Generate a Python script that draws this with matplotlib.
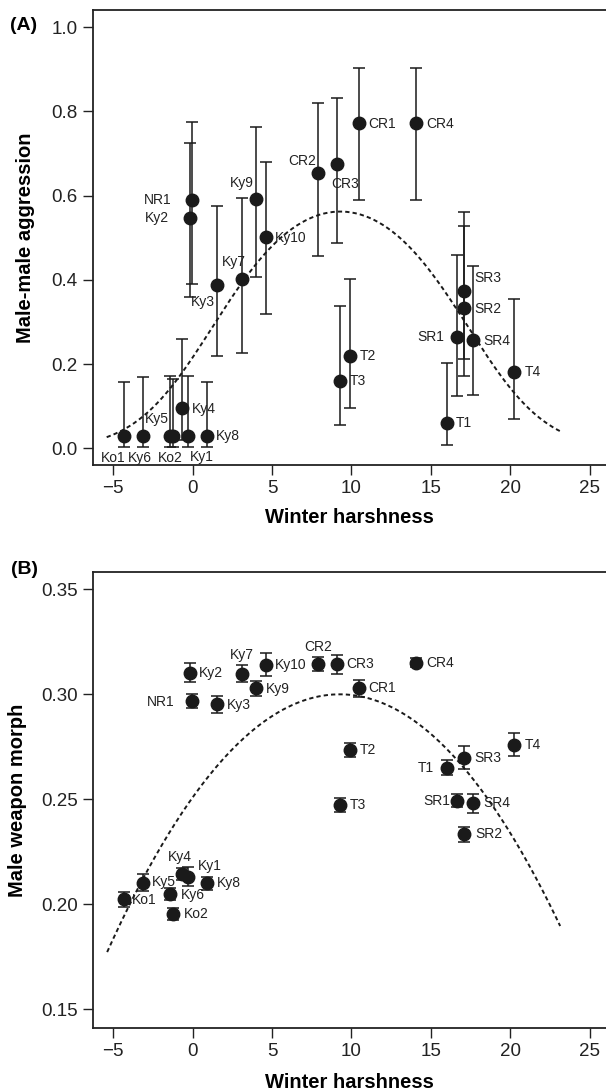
import numpy as np
import matplotlib
matplotlib.use('Agg')
import matplotlib.pyplot as plt

plt.rcParams['font.family'] = ['Liberation Sans', 'DejaVu Sans']

# populations (same order in both panels)
pops = ['Ko1', 'Ky5', 'Ky6', 'Ko2', 'Ky4', 'Ky1', 'Ky8', 'Ky3', 'Ky7', 'Ky10',
        'Ky9', 'NR1', 'Ky2', 'CR2', 'CR3', 'CR1', 'CR4', 'T2', 'T3', 'T1',
        'SR1', 'SR3', 'SR2', 'SR4', 'T4']
winter = [-4.3, -3.12, -1.44, -1.22, -0.7, -0.32, 0.87, 1.52, 3.1, 4.6,
          3.99, -0.06, -0.17, 7.9, 9.12, 10.48, 14.05, 9.9, 9.3, 16.0,
          16.63, 17.07, 17.12, 17.63, 20.27]

# panel A: male-male aggression with interval bounds
aggr = [0.030, 0.030, 0.030, 0.030, 0.095, 0.030, 0.030, 0.388, 0.401, 0.501,
        0.592, 0.589, 0.546, 0.654, 0.676, 0.773, 0.773, 0.219, 0.160, 0.059,
        0.265, 0.374, 0.333, 0.257, 0.182]
aggr_lo = [0.003, 0.003, 0.003, 0.003, 0.02, 0.003, 0.003, 0.219, 0.227, 0.320,
           0.406, 0.389, 0.360, 0.457, 0.487, 0.589, 0.589, 0.095, 0.055, 0.009,
           0.125, 0.212, 0.172, 0.127, 0.070]
aggr_hi = [0.158, 0.170, 0.172, 0.164, 0.259, 0.172, 0.158, 0.576, 0.595, 0.680,
           0.763, 0.775, 0.726, 0.819, 0.832, 0.903, 0.903, 0.401, 0.337, 0.202,
           0.460, 0.562, 0.528, 0.433, 0.354]

# panel B: male weapon morph with standard errors
weapon = [0.2024, 0.2103, 0.2049, 0.1954, 0.2144, 0.2131, 0.2100, 0.2952, 0.3098, 0.3140,
          0.3029, 0.2968, 0.3103, 0.3144, 0.3144, 0.3029, 0.3151, 0.2735, 0.2473, 0.2651,
          0.2493, 0.2698, 0.2333, 0.2482, 0.2759]
weapon_se = [0.0035, 0.004, 0.003, 0.0027, 0.003, 0.0045, 0.003, 0.004, 0.004, 0.0055,
             0.0035, 0.0035, 0.0045, 0.0035, 0.0045, 0.004, 0.0022, 0.0035, 0.0035, 0.0034,
             0.003, 0.0054, 0.0035, 0.0045, 0.0055]

# fitted curves (quadratic on logit scale for A, quadratic for B)
fitA_range = (-5.42, 23.25)
fitA_vertex, fitA_top, fitA_curv = 9.3, 0.25, -0.0178
fitB_range = (-5.39, 23.15)
fitB_vertex, fitB_top, fitB_curv = 9.26, 0.300, -0.000572

# label offsets in pixels (dx, dy up)
offA = [(-11, -22.6), (13.4, 16.4), (-30, -22.3), (-3.3, -22.6), (22.3, -0.7),
        (14, -21), (21.7, 0), (-14, -17), (-8.4, 17), (25, -1),
        (-14, 15.6), (-34, 0), (-33, 0), (-16, 12), (7.7, -20),
        (23.3, -1), (24.3, -1), (18, 0), (18, 0), (16.7, 0),
        (-25.6, -0.7), (23.7, 12.4), (23.3, -1), (24, -1), (18.3, -0.7)]
offB = [(20, -0.7), (20.3, 1), (23.5, -1), (23, 0), (-1.3, 16.7),
        (22, 10.7), (22, 0.6), (22.3, -0.6), (0, 18.7), (25, 0),
        (21.3, -1), (-30.7, -0.7), (21, -0.7), (0, 17.4), (23, 0),
        (23.3, 0.5), (24.3, 0), (17.7, 0), (18, 0), (-21, 0),
        (-20.4, 0), (23.7, 0), (24, 0), (24.4, 0), (18.3, 0)]

dark = '#1a1a1a'
fig = plt.figure(figsize=(6.06, 10.91), dpi=100)
axA = fig.add_axes([0.1535, 0.5738, 0.8615, 0.417])
axB = fig.add_axes([0.1535, 0.058, 0.8615, 0.4174])

x = np.array(winter)
ya = np.array(aggr)
errA = [ya - np.array(aggr_lo), np.array(aggr_hi) - ya]
axA.errorbar(x, ya, yerr=errA, fmt='none', ecolor=dark, elinewidth=1.1,
             capsize=4, capthick=1.1, zorder=2)
axA.plot(x, ya, 'o', color=dark, ms=9, zorder=3)
xs = np.linspace(*fitA_range, 200)
logit = fitA_top + fitA_curv * (xs - fitA_vertex) ** 2
axA.plot(xs, 1 / (1 + np.exp(-logit)), color=dark, lw=1.4,
         linestyle=(0, (2.2, 1.6)), zorder=1)

yb = np.array(weapon)
axB.errorbar(x, yb, yerr=weapon_se, fmt='none', ecolor=dark, elinewidth=1.1,
             capsize=4, capthick=1.1, zorder=2)
axB.plot(x, yb, 'o', color=dark, ms=9, zorder=3)
xs = np.linspace(*fitB_range, 200)
axB.plot(xs, fitB_top + fitB_curv * (xs - fitB_vertex) ** 2, color=dark, lw=1.4,
         linestyle=(0, (2.2, 1.6)), zorder=1)

for ax, ys, offs in [(axA, aggr, offA), (axB, weapon, offB)]:
    for name, xv, yv, (dx, dy) in zip(pops, winter, ys, offs):
        ax.annotate(name, (xv, yv), xytext=(dx, dy), textcoords='offset pixels',
                    ha='center', va='center', fontsize=10, color='#222222', zorder=4)
    ax.set_xlim(-6.28, 26.61)
    ax.set_xticks([-5, 0, 5, 10, 15, 20, 25])
    ax.tick_params(direction='out', length=7, width=1.0, labelsize=13.5, pad=4,
                   colors='#222222')
    for s in ax.spines.values():
        s.set_linewidth(1.3)
        s.set_color('#222222')
    ax.set_xlabel('Winter harshness', fontsize=14.5, fontweight='bold')
    ax.xaxis.label.set_va('center')

axA.set_ylim(-0.0396, 1.0407)
axA.set_yticks([0.0, 0.2, 0.4, 0.6, 0.8, 1.0])
axA.set_yticklabels(['0.0', '0.2', '0.4', '0.6', '0.8', '1.0'])
axA.set_ylabel('Male-male aggression', fontsize=14.5, fontweight='bold')
axA.yaxis.label.set_va('center')
axA.yaxis.set_label_coords(-0.130, 0.5)
axA.xaxis.set_label_coords(0.492, -0.1165)

axB.set_ylim(0.1412, 0.3581)
axB.set_yticks([0.15, 0.20, 0.25, 0.30, 0.35])
axB.set_yticklabels(['0.15', '0.20', '0.25', '0.30', '0.35'])
axB.set_ylabel('Male weapon morph', fontsize=14.5, fontweight='bold')
axB.yaxis.label.set_va('center')
axB.yaxis.set_label_coords(-0.144, 0.5)
axB.xaxis.set_label_coords(0.492, -0.121)

fig.text(24 / 606, 1 - 25 / 1091, '(A)', fontsize=14, fontweight='bold',
         ha='center', va='center')
fig.text(24 / 606, 1 - 570 / 1091, '(B)', fontsize=14, fontweight='bold',
         ha='center', va='center')

fig.savefig('out.png', dpi=100)
